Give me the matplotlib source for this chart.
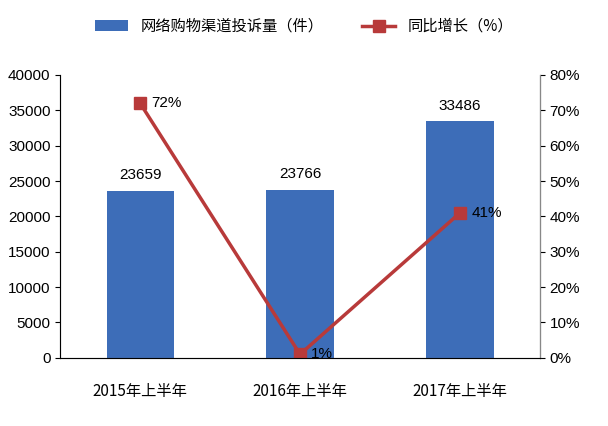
import matplotlib
matplotlib.use("Agg")
import matplotlib.pyplot as plt
from matplotlib.ticker import FuncFormatter

plt.rcParams['font.family'] = ['Liberation Sans', 'Noto Sans CJK SC', 'DejaVu Sans']

categories = ['2015年上半年', '2016年上半年', '2017年上半年']
complaints = [23659, 23766, 33486]
growth = [72, 1, 41]

fig = plt.figure(figsize=(6.08, 4.26), dpi=100)
ax = fig.add_axes([0.099, 0.16, 0.789, 0.664])
x = range(len(categories))
bars = ax.bar(x, complaints, width=0.42, color='#3D6DB8', label='网络购物渠道投诉量（件）')
ax.set_xlim(-0.5, 2.5)
ax.set_ylim(0, 40000)
ax.set_yticks(range(0, 40001, 5000))
ax.set_xticks(list(x))
ax.set_xticklabels(categories, fontsize=11, family=['Noto Sans CJK SC'])
ax.tick_params(axis='x', pad=18, length=0)
ax.tick_params(axis='y', labelsize=11)
ax.spines['top'].set_visible(False)
for s in ['left', 'bottom']:
    ax.spines[s].set_color('#888888')
for b, v in zip(bars, complaints):
    ax.text(b.get_x() + b.get_width() / 2, v + 1200, str(v), ha='center', va='bottom', fontsize=11)

ax2 = ax.twinx()
line, = ax2.plot(list(x), growth, color='#B83A3A', lw=2.5, marker='s', ms=8, label='同比增长（%）')
ax2.set_ylim(0, 80)
ax2.set_yticks(range(0, 81, 10))
ax2.yaxis.set_major_formatter(FuncFormatter(lambda v, p: f'{int(v)}%'))
ax2.tick_params(axis='y', labelsize=11)
ax2.spines['top'].set_visible(False)
ax2.spines['right'].set_color('#888888')
for i, g in zip(x, growth):
    ax2.text(i + 0.07, g, f'{g}%', ha='left', va='center', fontsize=11)

fig.legend(handles=[bars, line], loc='upper center', bbox_to_anchor=(0.5, 0.99), ncol=2,
           frameon=False, prop={'family': ['Noto Sans CJK SC'], 'size': 11},
           handlelength=2.2, columnspacing=2.5)

fig.savefig('out.png', dpi=100)
